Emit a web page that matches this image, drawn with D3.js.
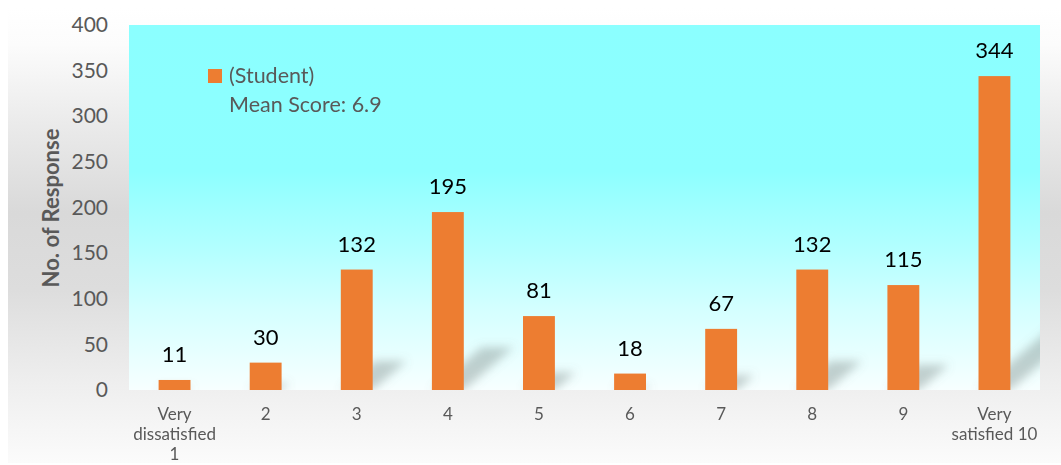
<!DOCTYPE html>
<html>
<head>
<meta charset="utf-8">
<script src="https://cdn.jsdelivr.net/npm/d3@7"></script>
<style>
  html, body { margin: 0; padding: 0; background: #ffffff; }
  svg { display: block; font-family: Lato, "Open Sans", sans-serif; }
</style>
</head>
<body>
<svg id="chart" width="1061" height="465"></svg>
<script>
// Satisfaction score categories (multi-line labels split by "\n")
const categories = ["Very\ndissatisfied\n1", "2", "3", "4", "5", "6", "7", "8", "9", "Very\nsatisfied 10"];
// Number of responses per score
const responses = [11, 30, 132, 195, 81, 18, 67, 132, 115, 344];
// Y axis tick values
const yTicks = [0, 50, 100, 150, 200, 250, 300, 350, 400];
const seriesName = "(Student)";
const meanLabel = "Mean Score: 6.9";
const yTitle = "No. of Response";

const W = 1061, H = 465;
const plot = { left: 129, right: 1040, top: 25, bottom: 390 };
const barColor = "#ED7D31";
const textGray = "#595959";

const svg = d3.select("#chart");
const defs = svg.append("defs");

// Outer chart-area background: soft vertical grey gradient
const bgGrad = defs.append("linearGradient").attr("id", "bgGrad")
  .attr("x1", 0).attr("y1", 0).attr("x2", 0).attr("y2", 1);
[[0, "#ffffff"], [0.08, "#fcfcfc"], [0.25, "#ebebeb"], [0.45, "#d9d9d9"], [0.62, "#dddddd"],
 [0.82, "#eeeeee"], [1, "#fbfbfb"]]
  .forEach(([o, c]) => bgGrad.append("stop").attr("offset", o).attr("stop-color", c));

// Plot-area background: cyan fading to white near the baseline
const plotGrad = defs.append("linearGradient").attr("id", "plotGrad")
  .attr("x1", 0).attr("y1", 0).attr("x2", 0).attr("y2", 1);
[[0, "#8bffff"], [0.4, "#8dffff"], [0.62, "#b4ffff"], [0.78, "#d4ffff"], [1, "#f7ffff"]]
  .forEach(([o, c]) => plotGrad.append("stop").attr("offset", o).attr("stop-color", c));

// Shadow blur + clip to plot
defs.append("filter").attr("id", "shadowBlur")
  .attr("x", "-50%").attr("y", "-50%").attr("width", "200%").attr("height", "200%")
  .append("feGaussianBlur").attr("stdDeviation", 5);
defs.append("clipPath").attr("id", "plotClip")
  .append("rect").attr("x", plot.left).attr("y", plot.top)
  .attr("width", plot.right - plot.left).attr("height", plot.bottom - plot.top);

svg.append("rect").attr("x", 8).attr("y", 8).attr("width", W - 8).attr("height", H - 10)
  .attr("fill", "url(#bgGrad)");
svg.append("rect").attr("x", plot.left).attr("y", plot.top)
  .attr("width", plot.right - plot.left).attr("height", plot.bottom - plot.top)
  .attr("fill", "url(#plotGrad)");

const x = d3.scaleBand().domain(categories).range([plot.left, plot.right]).paddingInner(0.65).paddingOuter(0.325);
const y = d3.scaleLinear().domain([0, 400]).range([plot.bottom, plot.top]);

const data = categories.map((c, i) => ({ cat: c, value: responses[i] }));

// Perspective shadows cast up and to the right of each bar
const shadowG = svg.append("g").attr("clip-path", "url(#plotClip)")
  .append("g").attr("filter", "url(#shadowBlur)");
shadowG.selectAll("path").data(data).enter().append("path")
  .attr("d", d => {
    const x0 = x(d.cat), x1 = x0 + x.bandwidth();
    const h = y(0) - y(d.value);
    const dx = 0.28 * h, dy = 0.24 * h;
    return `M${x0},${y(0)}L${x1},${y(0)}L${x1 + dx},${y(0) - dy}L${x0 + dx},${y(0) - dy}Z`;
  })
  .attr("fill", "#70807f").attr("opacity", 0.38);

// Bars
svg.append("g").selectAll("rect").data(data).enter().append("rect")
  .attr("x", d => x(d.cat)).attr("width", x.bandwidth())
  .attr("y", d => y(d.value)).attr("height", d => y(0) - y(d.value))
  .attr("fill", barColor);

// Value labels
svg.append("g").selectAll("text").data(data).enter().append("text")
  .attr("x", d => x(d.cat) + x.bandwidth() / 2)
  .attr("y", d => y(d.value) - 18)
  .attr("text-anchor", "middle").attr("font-size", 22).attr("fill", "#000")
  .text(d => d.value);

// Y axis (ticks labels only)
const yAxis = svg.append("g").attr("transform", `translate(${plot.left},0)`)
  .call(d3.axisLeft(y).tickValues(yTicks).tickSize(0).tickPadding(21));
yAxis.select(".domain").remove();
yAxis.selectAll("text").attr("font-size", 21).attr("fill", textGray)
  .attr("font-family", "Lato, sans-serif");

// X axis with multi-line category labels
const xAxis = svg.append("g").attr("transform", `translate(0,${plot.bottom})`)
  .call(d3.axisBottom(x).tickSize(0).tickFormat(""));
xAxis.select(".domain").remove();
xAxis.selectAll(".tick").each(function (d) {
  const t = d3.select(this).append("text")
    .attr("text-anchor", "middle").attr("font-size", 17).attr("fill", textGray)
    .attr("font-family", "Lato, sans-serif");
  d.split("\n").forEach((line, i) => {
    t.append("tspan").attr("x", 0).attr("y", 30 + i * 20).text(line);
  });
});

// Y axis title
svg.append("text")
  .attr("transform", `translate(59,208) rotate(-90)`)
  .attr("text-anchor", "middle").attr("font-size", 22).attr("font-weight", "bold")
  .attr("fill", textGray).text(yTitle);

// Legend
svg.append("rect").attr("x", 208).attr("y", 69).attr("width", 14).attr("height", 14).attr("fill", barColor);
svg.append("text").attr("x", 229).attr("y", 83).attr("font-size", 21.5).attr("fill", textGray).text(seriesName);
svg.append("text").attr("x", 229).attr("y", 112).attr("font-size", 21.5).attr("fill", textGray).text(meanLabel);
</script>
</body>
</html>
